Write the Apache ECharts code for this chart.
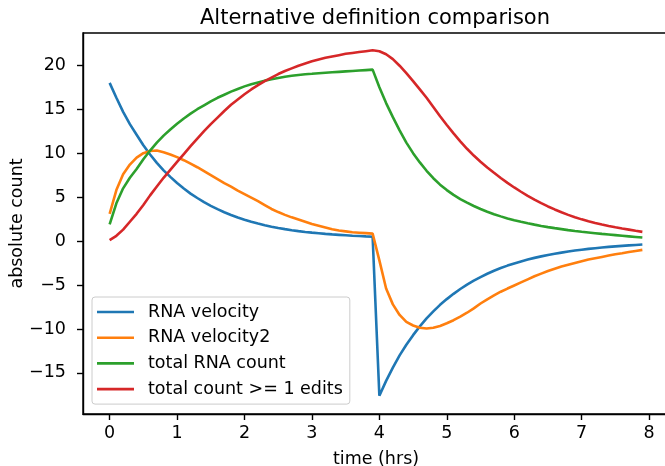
<!DOCTYPE html>
<html>
<head>
<meta charset="utf-8">
<script src="https://cdn.jsdelivr.net/npm/echarts@6/dist/echarts.min.js"></script>
<style>
  html, body { margin: 0; padding: 0; background: #fff; }
  #chart { width: 665px; height: 466px; }
</style>
</head>
<body>
<div id="chart"></div>
<script>
// Sampling times (hours)
const times = [
  0.0, 0.1, 0.2, 0.3, 0.4, 0.5, 0.6, 0.7, 0.8, 0.9,
  1.0, 1.1, 1.2, 1.3, 1.4, 1.5, 1.6, 1.7, 1.8, 1.9,
  2.0, 2.1, 2.2, 2.3, 2.4, 2.5, 2.6, 2.7, 2.8, 2.9,
  3.0, 3.1, 3.2, 3.3, 3.4, 3.5, 3.6, 3.7, 3.8, 3.9,
  4.0, 4.1, 4.2, 4.3, 4.4, 4.5, 4.6, 4.7, 4.8, 4.9,
  5.0, 5.1, 5.2, 5.3, 5.4, 5.5, 5.6, 5.7, 5.8, 5.9,
  6.0, 6.1, 6.2, 6.3, 6.4, 6.5, 6.6, 6.7, 6.8, 6.9,
  7.0, 7.1, 7.2, 7.3, 7.4, 7.5, 7.6, 7.7, 7.8, 7.9
];

const rnaVelocity = [
  18.0, 16.3, 14.7, 13.3, 12.1, 10.9, 9.85, 8.9, 8.05, 7.3,
  6.6, 5.98, 5.4, 4.9, 4.42, 4.0, 3.63, 3.28, 2.97, 2.68,
  2.43, 2.2, 2.0, 1.81, 1.64, 1.49, 1.36, 1.24, 1.13, 1.04,
  0.96, 0.89, 0.82, 0.76, 0.71, 0.66, 0.61, 0.57, 0.53, 0.5,
  -17.6, -15.9, -14.4, -13.0, -11.8, -10.7, -9.7, -8.8, -8.0, -7.25,
  -6.6, -6.0, -5.45, -4.95, -4.5, -4.1, -3.72, -3.38, -3.07, -2.79,
  -2.54, -2.31, -2.1, -1.91, -1.74, -1.58, -1.44, -1.31, -1.19, -1.08,
  -0.98, -0.89, -0.81, -0.73, -0.66, -0.6, -0.54, -0.49, -0.44, -0.39
];

const rnaVelocity2 = [
  3.1, 5.8, 7.6, 8.7, 9.5, 10.0, 10.25, 10.3, 10.1, 9.85,
  9.55, 9.2, 8.8, 8.4, 7.95, 7.5, 7.05, 6.6, 6.2, 5.75,
  5.35, 4.95, 4.55, 4.1, 3.65, 3.3, 2.98, 2.7, 2.45, 2.2,
  1.95, 1.75, 1.55, 1.35, 1.2, 1.1, 1.0, 0.95, 0.9, 0.85,
  -2.2, -5.4, -7.2, -8.4, -9.2, -9.6, -9.85, -9.95, -9.85, -9.65,
  -9.35, -9.0, -8.6, -8.15, -7.65, -7.1, -6.62, -6.17, -5.76, -5.4,
  -5.05, -4.7, -4.35, -4.0, -3.7, -3.4, -3.15, -2.9, -2.7, -2.5,
  -2.3, -2.1, -1.95, -1.8, -1.65, -1.5, -1.38, -1.25, -1.12, -1.0
];

const totalRnaCount = [
  1.9, 4.3, 6.0, 7.2, 8.2, 9.3, 10.3, 11.2, 12.0, 12.7,
  13.35, 13.95, 14.5, 15.0, 15.45, 15.9, 16.3, 16.65, 17.0, 17.3,
  17.6, 17.85, 18.05, 18.25, 18.4, 18.55, 18.7, 18.8, 18.9, 18.97,
  19.03, 19.1, 19.15, 19.2, 19.25, 19.3, 19.35, 19.4, 19.45, 19.5,
  17.5, 15.7, 14.1, 12.6, 11.2, 10.0, 8.95, 8.0, 7.15, 6.42,
  5.8, 5.25, 4.78, 4.37, 3.99, 3.65, 3.34, 3.06, 2.81, 2.58,
  2.38, 2.2, 2.03, 1.87, 1.72, 1.59, 1.47, 1.36, 1.25, 1.15,
  1.06, 0.98, 0.9, 0.82, 0.75, 0.68, 0.61, 0.54, 0.47, 0.4
];

const totalCountEdits = [
  0.1, 0.6, 1.3, 2.2, 3.1, 4.1, 5.2, 6.2, 7.2, 8.1,
  9.0, 9.9, 10.8, 11.65, 12.5, 13.3, 14.05, 14.8, 15.5, 16.1,
  16.7, 17.25, 17.75, 18.2, 18.6, 19.0, 19.35, 19.65, 19.95, 20.2,
  20.45, 20.65, 20.85, 21.0, 21.15, 21.3, 21.4, 21.5, 21.6, 21.7,
  21.6, 21.25, 20.7, 19.95, 19.1, 18.2, 17.25, 16.3, 15.25, 14.2,
  13.2, 12.25, 11.35, 10.5, 9.73, 9.02, 8.37, 7.77, 7.18, 6.62,
  6.1, 5.61, 5.14, 4.71, 4.31, 3.94, 3.6, 3.28, 2.98, 2.71,
  2.47, 2.25, 2.05, 1.88, 1.72, 1.57, 1.43, 1.3, 1.17, 1.05
];

const xTicks = [0, 1, 2, 3, 4, 5, 6, 7, 8];
const yTicks = [-15, -10, -5, 0, 5, 10, 15, 20];

const seriesDefs = [
  { name: 'RNA velocity', values: rnaVelocity, color: '#1f77b4' },
  { name: 'RNA velocity2', values: rnaVelocity2, color: '#ff7f0e' },
  { name: 'total RNA count', values: totalRnaCount, color: '#2ca02c' },
  { name: 'total count >= 1 edits', values: totalCountEdits, color: '#d62728' }
];

const FONT = 'DejaVu Sans';
const FS = 17.5;
const minusSign = v => String(v).replace('-', '\u2212');

const chart = echarts.init(document.getElementById('chart'), null, { renderer: 'canvas' });

chart.setOption({
  animation: false,
  backgroundColor: '#ffffff',
  title: {
    text: 'Alternative definition comparison',
    left: 370,
    textAlign: 'center',
    top: 3,
    textStyle: { fontFamily: FONT, fontSize: 21, fontWeight: 'normal', color: '#000' }
  },
  grid: {
    left: 83, top: 33, width: 586, height: 381,
    containLabel: false,
    outerBoundsMode: 'none',
    show: true, borderColor: '#000', borderWidth: 1.4, backgroundColor: 'transparent'
  },
  legend: {
    orient: 'vertical',
    left: 92, top: 297,
    padding: [5, 7, 5, 5],
    itemGap: 5.7,
    itemWidth: 37, itemHeight: 2.6,
    icon: 'rect',
    backgroundColor: 'rgba(255,255,255,0.8)',
    borderColor: '#cccccc', borderWidth: 1, borderRadius: 3,
    textStyle: { fontFamily: FONT, fontSize: FS, lineHeight: 20, color: '#000', padding: [0, 0, 0, 9] },
    data: seriesDefs.map(s => s.name)
  },
  xAxis: {
    type: 'value',
    min: -0.395, max: 8.295,
    name: 'time (hrs)',
    nameLocation: 'middle',
    nameGap: 36,
    nameMoveOverlap: false,
    nameTextStyle: { fontFamily: FONT, fontSize: FS, color: '#000' },
    axisLine: { show: true, onZero: false, lineStyle: { color: '#000', width: 1.4 } },
    axisTick: { show: true, inside: false, length: 6, customValues: xTicks, lineStyle: { color: '#000', width: 1.4 } },
    axisLabel: { customValues: xTicks, margin: 10, fontFamily: FONT, fontSize: FS, color: '#000', formatter: minusSign },
    splitLine: { show: false }
  },
  yAxis: {
    type: 'value',
    min: -19.67, max: 23.67,
    name: 'absolute count',
    nameLocation: 'middle',
    nameGap: 57,
    nameMoveOverlap: false,
    nameRotate: 90,
    nameTextStyle: { fontFamily: FONT, fontSize: FS, color: '#000' },
    axisLine: { show: true, onZero: false, lineStyle: { color: '#000', width: 1.4 } },
    axisTick: { show: true, inside: false, length: 6, customValues: yTicks, lineStyle: { color: '#000', width: 1.4 } },
    axisLabel: { customValues: yTicks, margin: 17, fontFamily: FONT, fontSize: FS, color: '#000', formatter: minusSign },
    splitLine: { show: false }
  },
  series: seriesDefs.map(s => ({
    name: s.name,
    type: 'line',
    data: times.map((t, i) => [t, s.values[i]]),
    showSymbol: false,
    symbol: 'none',
    lineStyle: { color: s.color, width: 2.6 },
    itemStyle: { color: s.color },
    emphasis: { disabled: true }
  }))
});
</script>
</body>
</html>
